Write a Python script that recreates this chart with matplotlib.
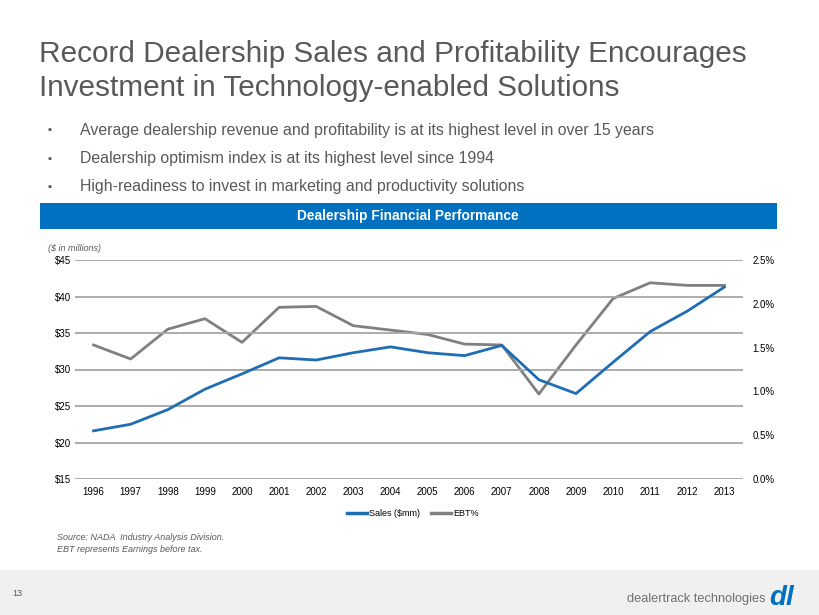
import matplotlib
matplotlib.use("Agg")
import matplotlib.pyplot as plt
from matplotlib.patches import Rectangle
from matplotlib.lines import Line2D

plt.rcParams['font.family'] = ['Liberation Sans', 'DejaVu Sans']

years = list(range(1996, 2014))
sales = [21.6, 22.5, 24.5, 27.3, 29.4, 31.6, 31.3, 32.3, 33.1, 32.3, 31.9, 33.3,
         28.6, 26.7, 31.0, 35.2, 38.0, 41.3]
ebt = [1.53, 1.37, 1.71, 1.83, 1.56, 1.96, 1.97, 1.75, 1.70, 1.65, 1.54, 1.53,
       0.97, 1.53, 2.06, 2.24, 2.21, 2.21]
left_ticks = [15, 20, 25, 30, 35, 40, 45]
left_labels = ['$15', '$20', '$25', '$30', '$35', '$40', '$45']
right_ticks = [0.0, 0.5, 1.0, 1.5, 2.0, 2.5]
right_labels = ['0.0%', '0.5%', '1.0%', '1.5%', '2.0%', '2.5%']

title_lines = ["Record Dealership Sales and Profitability Encourages",
               "Investment in Technology-enabled Solutions"]
bullets = ["Average dealership revenue and profitability is at its highest level in over 15 years",
           "Dealership optimism index is at its highest level since 1994",
           "High-readiness to invest in marketing and productivity solutions"]

W, H = 820, 615
fig = plt.figure(figsize=(W / 100, H / 100), dpi=100)
fig.patch.set_facecolor('white')


def P(x, y):
    return x / W, 1 - y / H


TXT = '#595959'
BLUE = '#0070c0'
LBLUE = '#1f6db3'
GRAY = '#808080'

# footer band
fig.patches.append(Rectangle(P(0, 615), 1, 45 / H, transform=fig.transFigure,
                             facecolor='#f0f0f0', edgecolor='none', zorder=0))

# title
fig.text(*P(39, 62), title_lines[0], fontsize=21.4, color=TXT, va='baseline', ha='left')
fig.text(*P(39, 96), title_lines[1], fontsize=21.4, color=TXT, va='baseline', ha='left')

# bullets
for i, b in enumerate(bullets):
    y = 130 + i * 28.5
    fig.text(*P(47, y), '\u25aa', fontsize=8, color=TXT, va='center', ha='left')
    fig.text(*P(80, y), b, fontsize=11.4, color=TXT, va='center', ha='left')

# banner
fig.patches.append(Rectangle(P(40, 229), 737 / W, 26 / H, transform=fig.transFigure,
                             facecolor=BLUE, edgecolor='none', zorder=1))
fig.text(*P(408, 216), 'Dealership Financial Performance', fontsize=9.9, color='white',
         fontweight='bold', ha='center', va='center', zorder=2)

fig.text(*P(48, 248), '($ in millions)', fontsize=6.5, color=TXT, style='italic',
         ha='left', va='center')

# axes
ax = fig.add_axes([75 / W, 1 - 479 / H, 668 / W, 219 / H])
ax.set_xlim(1995.5, 2013.5)
ax.set_ylim(15, 45)
ax.set_yticks(left_ticks)
ax.set_yticklabels(left_labels)
ax.yaxis.grid(True, color='#a6a6a6', linewidth=1.3)
ax.set_axisbelow(True)
for s in ax.spines.values():
    s.set_visible(False)
ax.tick_params(axis='y', length=0, labelsize=7, colors='#000000', pad=3)
ax.tick_params(axis='x', length=0, labelsize=7, colors='#000000', pad=6)
ax.set_xticks(years)
ax.set_xticklabels([str(y) for y in years])

ax2 = ax.twinx()
ax2.set_ylim(0, 2.5)
ax2.set_yticks(right_ticks)
ax2.set_yticklabels(right_labels)
for s in ax2.spines.values():
    s.set_visible(False)
ax2.tick_params(axis='y', length=0, labelsize=7, colors='#000000', pad=7)

ax2.plot(years, ebt, color=GRAY, linewidth=2.0, zorder=2)
ax.plot(years, sales, color=LBLUE, linewidth=2.0, zorder=3)
ax.set_zorder(ax2.get_zorder() + 1)
ax.patch.set_visible(False)

# legend
handles = [Line2D([], [], color=LBLUE, linewidth=2.5), Line2D([], [], color=GRAY, linewidth=2.5)]
fig.legend(handles, ['Sales ($mm)', 'EBT%'], loc='center', bbox_to_anchor=P(413, 514),
           ncol=2, frameon=False, fontsize=6.5, handlelength=2.2, handletextpad=0.3,
           columnspacing=1.2)

# source
fig.text(*P(57, 538), 'Source: NADA  Industry Analysis Division.', fontsize=6.5, color=TXT,
         style='italic', ha='left', va='center')
fig.text(*P(57, 549), 'EBT represents Earnings before tax.', fontsize=6.5, color=TXT,
         style='italic', ha='left', va='center')

# footer
fig.text(*P(12, 593), '13', fontsize=6.5, color=TXT, ha='left', va='center')
fig.text(*P(766, 599), 'dealertrack technologies', fontsize=9.2, color='#6f6f6f',
         ha='right', va='center')
fig.text(*P(769, 598), 'dl', fontsize=20, color=BLUE, fontweight='bold', style='italic',
         ha='left', va='center')

fig.savefig('out.png', dpi=100, facecolor='white')
